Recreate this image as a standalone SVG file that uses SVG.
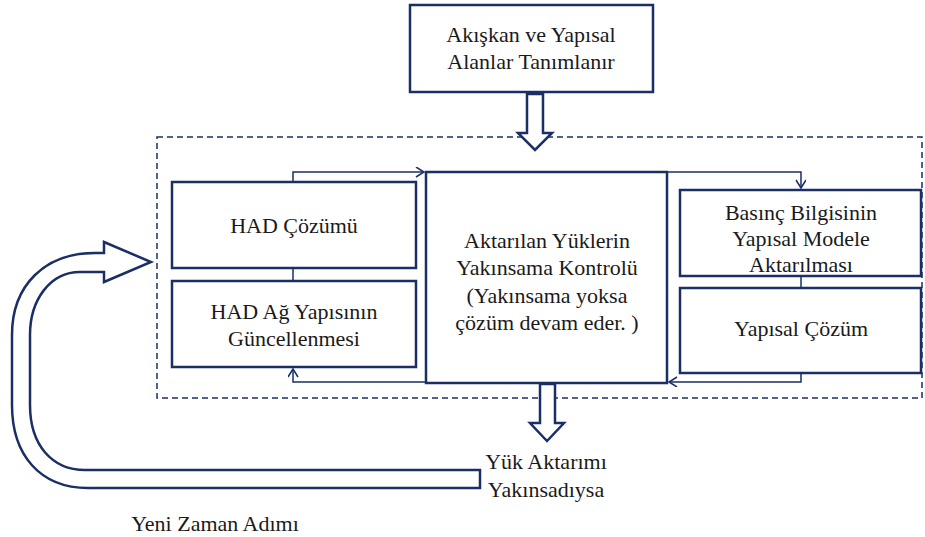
<svg xmlns="http://www.w3.org/2000/svg" width="925" height="537" viewBox="0 0 925 537">
<defs>
<style>
.box{fill:#fff;stroke:#1b2f66;stroke-width:2.5}
.con{fill:none;stroke:#1b2f66;stroke-width:1.5}
.hol{fill:#fff;stroke:#1b2f66;stroke-width:2.5;stroke-linejoin:miter}
.dash{fill:none;stroke:#1b2f66;stroke-width:1.5;stroke-dasharray:6 4}
.t{font-size:22px;fill:#1a1a1a;text-anchor:middle}
</style>
<marker id="ah" markerWidth="12" markerHeight="12" refX="9" refY="5" orient="auto" markerUnits="userSpaceOnUse">
<path d="M1,0 L9,5 L1,10" fill="none" stroke="#1b2f66" stroke-width="1.5"/>
</marker>
</defs>
<rect width="925" height="537" fill="#fff"/>
<rect class="dash" x="157" y="137" width="765" height="261"/>
<g id="connectors">
<path class="con" d="M293,182 V172 H424" marker-end="url(#ah)"/>
<path class="con" d="M293,268 V281"/>
<path class="con" d="M426,382 H293 V369" marker-end="url(#ah)"/>
<path class="con" d="M667,172 H801 V188" marker-end="url(#ah)"/>
<path class="con" d="M801,276 V287"/>
<path class="con" d="M801,373 V382 H669" marker-end="url(#ah)"/>
<path id="arrow-top" class="hol" d="M527,94 H543 V133 H552 L535,150 L518,133 H527 Z"/>
<path id="arrow-bottom" class="hol" d="M540,384 H555 V423 H564 L547,441 L530,423 H540 Z"/>
<path id="arrow-loop" class="hol" d="M480,488 H88 C40,488 12,455 12,405 V335 C12,285 45,253 95,253 H104 V242 L151,262 L104,282 V272 H80 C50,272 30,300 30,335 V405 C30,445 52,470 85,470 H480 Z"/>
</g>
<g font-family="'Liberation Serif', 'Times New Roman', 'DejaVu Serif', serif">
<g id="n-top">
<rect class="box" x="410" y="5" width="243" height="87"/>
<text class="t" x="531" y="42">Akışkan ve Yapısal</text>
<text class="t" x="531" y="69">Alanlar Tanımlanır</text>
</g>
<g id="n-had">
<rect class="box" x="172" y="182" width="244" height="86"/>
<text class="t" x="294" y="233">HAD Çözümü</text>
</g>
<g id="n-hadag">
<rect class="box" x="172" y="281" width="244" height="86"/>
<text class="t" x="294" y="319">HAD Ağ Yapısının</text>
<text class="t" x="294" y="346">Güncellenmesi</text>
</g>
<g id="n-center">
<rect class="box" x="426" y="172" width="241" height="211"/>
<text class="t" x="547" y="248">Aktarılan Yüklerin</text>
<text class="t" x="547" y="275">Yakınsama Kontrolü</text>
<text class="t" x="547" y="303">(Yakınsama yoksa</text>
<text class="t" x="547" y="330">çözüm devam eder. )</text>
</g>
<g id="n-basinc">
<rect class="box" x="680" y="190" width="241" height="86"/>
<text class="t" x="801" y="220">Basınç Bilgisinin</text>
<text class="t" x="801" y="246">Yapısal Modele</text>
<text class="t" x="801" y="272">Aktarılması</text>
</g>
<g id="n-yapisal">
<rect class="box" x="680" y="288" width="241" height="85"/>
<text class="t" x="801" y="336">Yapısal Çözüm</text>
</g>
<g id="labels">
<text class="t" x="546" y="469">Yük Aktarımı</text>
<text class="t" x="546" y="497">Yakınsadıysa</text>
<text class="t" x="215" y="531">Yeni Zaman Adımı</text>
</g>
</g>
</svg>
